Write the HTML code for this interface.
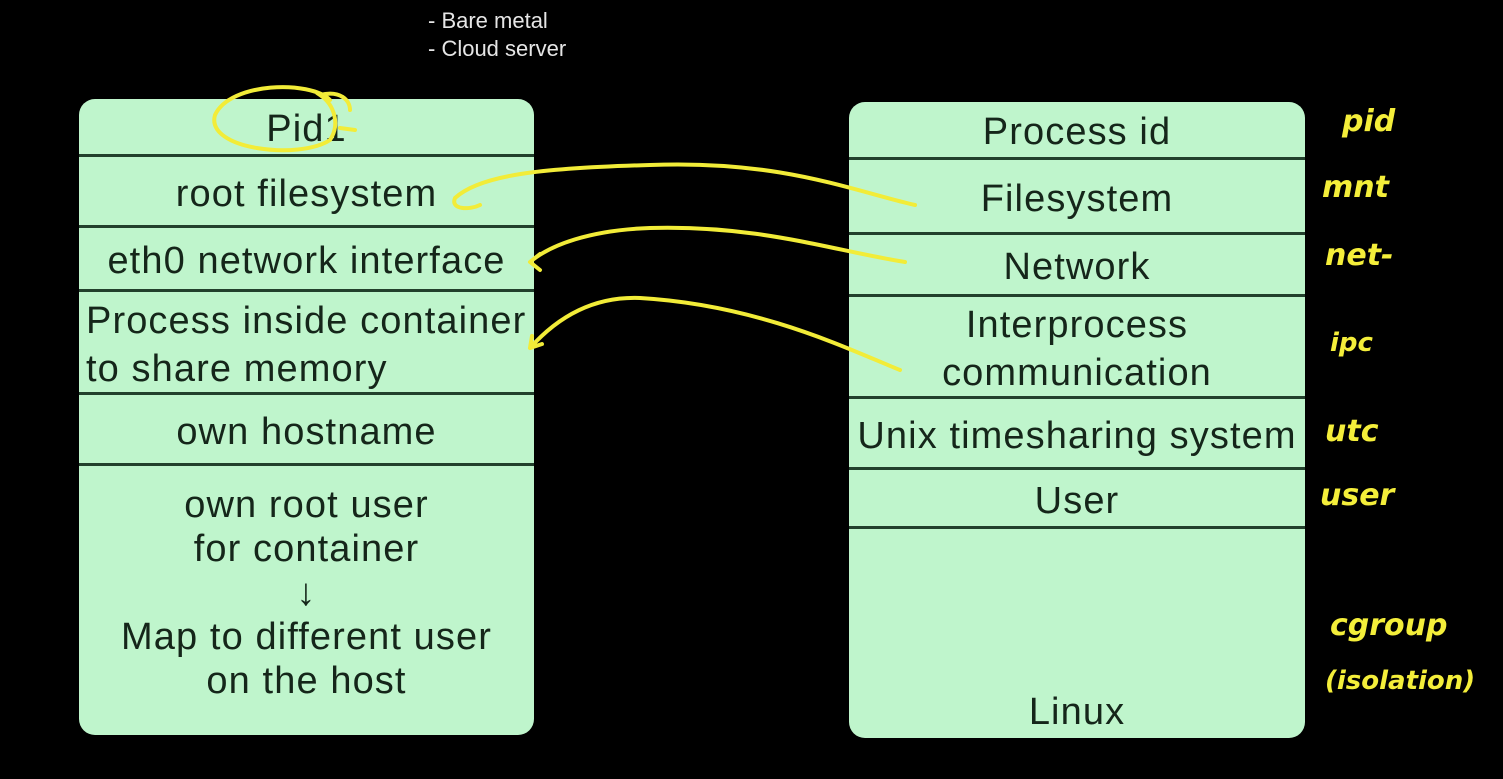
<!DOCTYPE html>
<html><head><meta charset="utf-8"><style>
body{margin:0;width:1503px;height:779px;background:#000;overflow:hidden;position:relative;font-family:"Liberation Sans",sans-serif}
.box{position:absolute;background:#bff5cc;border-radius:16px;overflow:hidden}
.row{position:absolute;left:0;right:0;display:flex;align-items:center;justify-content:center;text-align:center;color:#15261a;font-size:38px;letter-spacing:1.1px;line-height:48px;border-bottom:3px solid #22402c;box-sizing:border-box;white-space:nowrap;padding-top:5px}
.row.last{border-bottom:none}
.y{position:absolute;color:#f4ee3a;font-size:30px;font-weight:bold;font-style:italic;font-family:"DejaVu Sans",sans-serif}
.top{position:absolute;color:#e6e6e6;font-size:22px;left:428px}
</style></head><body>
<div class="top" style="top:8px">- Bare metal</div>
<div class="top" style="top:36px">- Cloud server</div>

<div class="box" style="left:79px;top:99px;width:455px;height:636px">
 <div class="row" style="top:0;height:58px">Pid1</div>
 <div class="row" style="top:58px;height:71px">root filesystem</div>
 <div class="row" style="top:129px;height:64px">eth0 network interface</div>
 <div class="row" style="top:193px;height:103px;justify-content:flex-start;text-align:left;padding-left:7px">Process inside container<br>to share memory</div>
 <div class="row" style="top:296px;height:71px">own hostname</div>
 <div class="row last" style="top:367px;height:269px;line-height:44px;align-items:flex-start;padding-top:17px">own root user<br>for container<br>↓<br>Map to different user<br>on the host</div>
</div>

<div class="box" style="left:849px;top:102px;width:456px;height:636px">
 <div class="row" style="top:0;height:58px">Process id</div>
 <div class="row" style="top:58px;height:75px">Filesystem</div>
 <div class="row" style="top:133px;height:62px">Network</div>
 <div class="row" style="top:195px;height:102px">Interprocess<br>communication</div>
 <div class="row" style="top:297px;height:71px">Unix timesharing system</div>
 <div class="row" style="top:368px;height:59px">User</div>
 <div class="row last" style="top:427px;height:209px;align-items:flex-end;padding-bottom:2px">Linux</div>
</div>

<svg style="position:absolute;left:0;top:0" width="1503" height="779">
<g fill="none" stroke="#f2ec38" stroke-width="4" stroke-linecap="round">
<path d="M330,100 C310,80 230,82 215,115 C205,150 300,160 330,140 C340,125 335,105 320,95 C340,90 350,100 350,110"/>
<path d="M340,128 l15,2"/>
<path d="M915,205 C850,190 780,160 650,165 C540,168 480,175 455,198 C450,210 470,210 480,205"/>
<path d="M905,262 C830,250 760,225 650,228 C590,230 550,245 530,262 M530,262 l10,-8 M530,262 l10,8"/>
<path d="M900,370 C850,350 760,305 640,298 C590,296 555,320 530,348 M530,348 l12,-4 M530,348 l2,-12"/>
</g>
</svg>
<div class="y" style="left:1342px;top:104px">pid</div>
<div class="y" style="left:1322px;top:170px">mnt</div>
<div class="y" style="left:1325px;top:238px">net-</div>
<div class="y" style="left:1330px;top:328px;font-size:26px">ipc</div>
<div class="y" style="left:1325px;top:414px">utc</div>
<div class="y" style="left:1320px;top:478px">user</div>
<div class="y" style="left:1330px;top:608px">cgroup</div>
<div class="y" style="left:1325px;top:666px;font-size:26px">(isolation)</div>
</body></html>
